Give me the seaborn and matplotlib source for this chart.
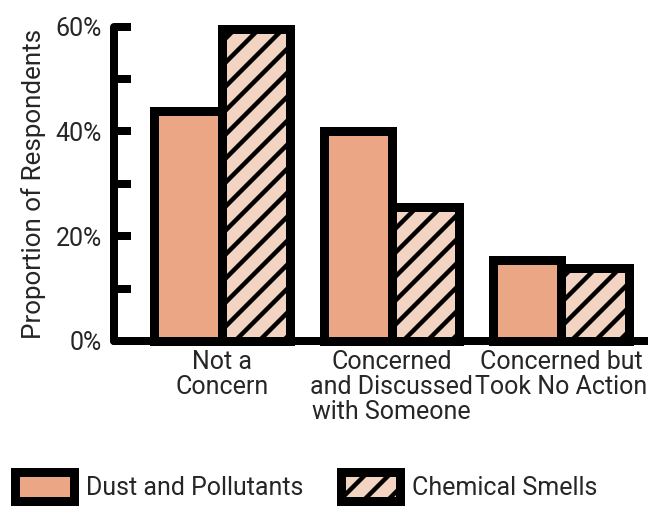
import matplotlib
matplotlib.use("Agg")
import matplotlib.pyplot as plt
import matplotlib.ticker as mticker
import pandas as pd
import seaborn as sns

# values (proportions)
categories = ["Not a\nConcern", "Concerned\nand Discussed\nwith Someone", "Concerned but\nTook No Action"]
series = ["Dust and Pollutants", "Chemical Smells"]
dust = [0.44, 0.40, 0.155]
chem = [0.595, 0.255, 0.14]
y_ticks = [0.0, 0.2, 0.4, 0.6]
y_minor = [0.1, 0.3, 0.5]

df = pd.DataFrame({
    "category": categories * 2,
    "series": [series[0]] * 3 + [series[1]] * 3,
    "value": dust + chem,
})

sns.set_style("white")
plt.rcParams["font.family"] = ["Roboto", "DejaVu Sans"]
plt.rcParams["hatch.linewidth"] = 4.5
plt.rcParams["hatch.color"] = "#1a1a1a"

colors = {"Dust and Pollutants": "#EBA686", "Chemical Smells": "#F3D3C1"}

# dpi 72: one point is one pixel, and the hatch tile is 72 px
fig = plt.figure(figsize=(9.0, 506 / 72), dpi=72)
ax = fig.add_axes([114 / 648, 165 / 506, 534 / 648, 314.3 / 506])

sns.barplot(data=df, x="category", y="value", hue="series", palette=colors,
            order=categories, hue_order=series, edgecolor="black",
            linewidth=9, saturation=1, ax=ax, legend=False)

for bar in ax.containers[1]:
    bar.set_hatch("/")
for cont in ax.containers:
    for bar in cont:
        bar.set_clip_on(False)
        bar.set_joinstyle("miter")

ax.set_xlim(-0.637, 2.513)
ax.set_ylim(0, 0.6)
ax.set_yticks(y_ticks)
ax.set_yticks(y_minor, minor=True)
ax.yaxis.set_major_formatter(mticker.PercentFormatter(1.0, decimals=0))
ax.tick_params(axis="y", which="both", left=True, direction="in", length=17,
               width=8, color="black", labelsize=25, pad=12)
ax.tick_params(axis="x", length=0, labelsize=25, pad=9)
for lab in ax.get_xticklabels():
    lab.set_linespacing(1.05)
ax.set_xlabel("")
ax.set_ylabel("Proportion of Respondents", fontsize=26, labelpad=10)

sns.despine(ax=ax)
for side in ["left", "bottom"]:
    ax.spines[side].set_linewidth(8)
    ax.spines[side].set_color("black")
    ax.spines[side].set_capstyle("round")

handles = [ax.containers[0][0], ax.containers[1][0]]
fig.legend(handles, series, loc="lower left",
           bbox_to_anchor=(14.5 / 648, 5.5 / 506),
           ncol=2, frameon=False, fontsize=25, handlelength=2.36,
           handleheight=1.36, handletextpad=0.5, columnspacing=1.5,
           borderpad=0, borderaxespad=0)

fig.savefig("out.png", dpi=72)
